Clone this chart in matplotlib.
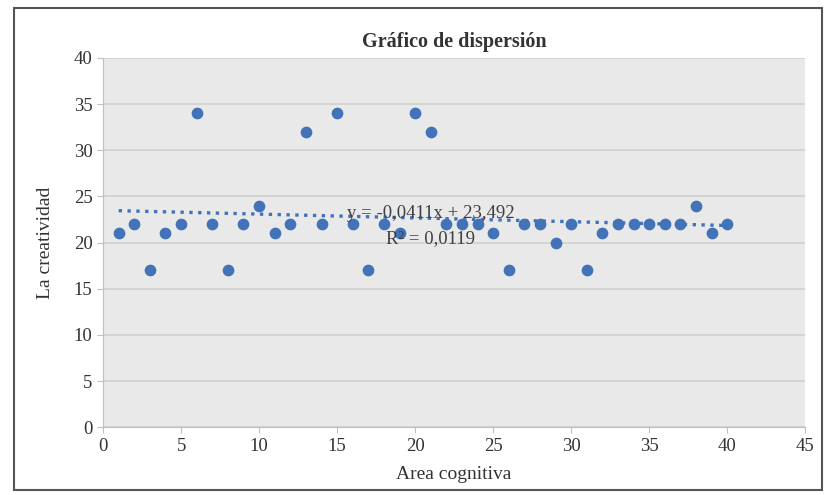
import matplotlib.pyplot as plt
from matplotlib.patches import Rectangle
import numpy as np

# Area cognitiva (x) vs La creatividad (y)
area_cognitiva = list(range(1, 41))
creatividad = [21, 22, 17, 21, 22, 34, 22, 17, 22, 24,
               21, 22, 32, 22, 34, 22, 17, 22, 21, 34,
               32, 22, 22, 22, 21, 17, 22, 22, 20, 22,
               17, 21, 22, 22, 22, 22, 22, 24, 21, 22]

# linear trendline as reported on the chart
slope = -0.0411
intercept = 23.492
equation_label = "y = -0,0411x + 23,492"
r2_label = "R² = 0,0119"

plt.rcParams["font.family"] = ["Liberation Serif", "DejaVu Serif"]

fig = plt.figure(figsize=(8.31, 4.95), dpi=100)
ax = fig.add_axes([0.124, 0.137, 0.845, 0.746])

# outer frame around the whole chart
fig.patches.append(Rectangle((0.0168, 0.0101), 0.972, 0.974, transform=fig.transFigure,
                             fill=False, edgecolor="#555555", linewidth=1.5))

ax.set_facecolor("#e9e9e9")
blue = "#4273b8"

x = np.array(area_cognitiva)
trend_x = np.array([x.min(), x.max()])
ax.plot(trend_x, slope * trend_x + intercept, linestyle=":", color=blue, linewidth=2.4, zorder=2)
ax.scatter(area_cognitiva, creatividad, s=55, color=blue, zorder=3)

ax.text(21.0, 23.2, equation_label, ha="center", va="center", fontsize=13.5, color="#404040", zorder=4)
ax.text(21.0, 20.4, r2_label, ha="center", va="center", fontsize=13.5, color="#404040", zorder=4)

ax.set_xlim(0, 45)
ax.set_ylim(0, 40)
ax.set_xticks(range(0, 46, 5))
ax.set_yticks(range(0, 41, 5))
ax.yaxis.grid(True, color="#d2d2d2", linewidth=1.3)
ax.set_axisbelow(True)
for side in ["top", "right"]:
    ax.spines[side].set_visible(False)
for side in ["left", "bottom"]:
    ax.spines[side].set_color("#bfbfbf")
ax.tick_params(axis="both", colors="#bfbfbf", labelcolor="#333333", labelsize=13.5, length=4)

ax.set_title("Gráfico de dispersión", fontsize=14.5, fontweight="bold", color="#333333", pad=8)
ax.set_xlabel("Area cognitiva", fontsize=14, color="#333333", labelpad=8)
ax.set_ylabel("La creatividad", fontsize=14, color="#333333", labelpad=14)

fig.savefig("out.png", dpi=100, facecolor="white")
